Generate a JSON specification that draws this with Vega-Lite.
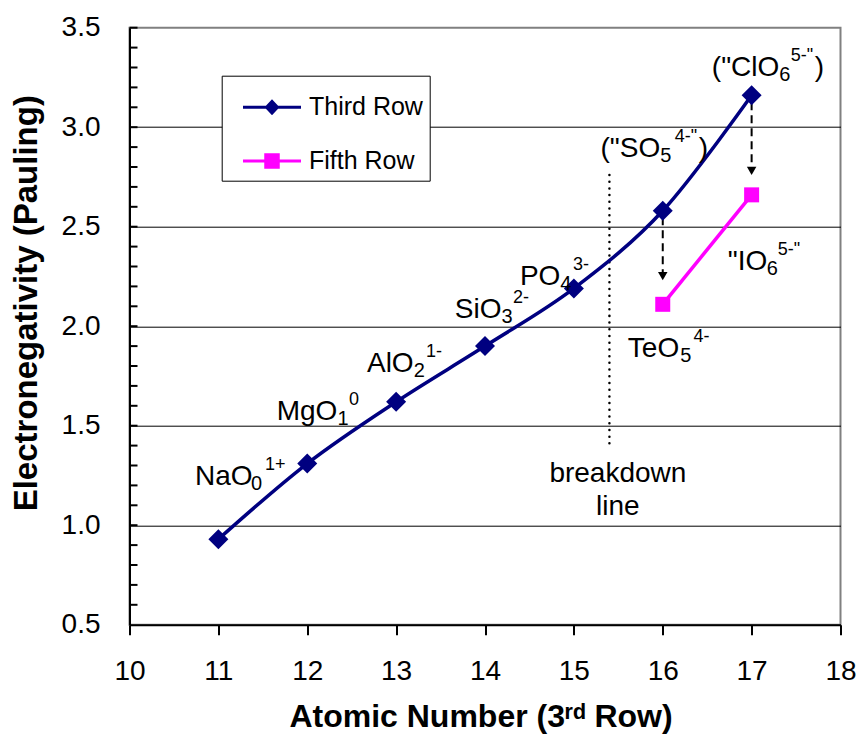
{
  "$schema": "https://vega.github.io/schema/vega-lite/v6.json",
  "autosize": {"type": "none"},
  "padding": {"left": 129.5, "top": 27.7, "right": 19.5, "bottom": 110.3},
  "width": 711,
  "height": 597,
  "background": "white",
  "config": {
    "font": "Liberation Sans",
    "view": {"stroke": "#808080", "strokeWidth": 2},
    "text": {"font": "Liberation Sans", "color": "black"}
  },
  "datasets": {
    "series": [
      {"row": "Third Row", "z": 11, "en": 0.93},
      {"row": "Third Row", "z": 12, "en": 1.31},
      {"row": "Third Row", "z": 13, "en": 1.62},
      {"row": "Third Row", "z": 14, "en": 1.90},
      {"row": "Third Row", "z": 15, "en": 2.19},
      {"row": "Third Row", "z": 16, "en": 2.58},
      {"row": "Third Row", "z": 17, "en": 3.16},
      {"row": "Fifth Row", "z": 16, "en": 2.11},
      {"row": "Fifth Row", "z": 17, "en": 2.66}
    ],
    "yticks": [
      {"v": 0.6}, {"v": 0.7}, {"v": 0.8}, {"v": 0.9}, {"v": 1.0},
      {"v": 1.1}, {"v": 1.2}, {"v": 1.3}, {"v": 1.4}, {"v": 1.5},
      {"v": 1.6}, {"v": 1.7}, {"v": 1.8}, {"v": 1.9}, {"v": 2.0},
      {"v": 2.1}, {"v": 2.2}, {"v": 2.3}, {"v": 2.4}, {"v": 2.5},
      {"v": 2.6}, {"v": 2.7}, {"v": 2.8}, {"v": 2.9}, {"v": 3.0},
      {"v": 3.1}, {"v": 3.2}, {"v": 3.3}, {"v": 3.4}, {"v": 3.5}
    ],
    "arrows": [
      {"z": 16, "top": 2.548, "bot": 2.272, "head": 2.252},
      {"z": 17, "top": 3.126, "bot": 2.80, "head": 2.780}
    ],
    "brk": [
      {"z": 15.4, "top": 2.76, "bot": 1.41, "x": 15.495, "y": 1.217, "t": "breakdown\nline"}
    ],
    "ann": [
      {"x": 10.737, "y": 1.202, "t": "NaO", "p": "main"},
      {"x": 11.367, "y": 1.202, "t": "0", "p": "sub"},
      {"x": 11.524, "y": 1.202, "t": "1+", "p": "sup"},
      {"x": 11.656, "y": 1.529, "t": "MgO", "p": "main"},
      {"x": 12.340, "y": 1.529, "t": "1", "p": "sub"},
      {"x": 12.469, "y": 1.529, "t": "0", "p": "sup"},
      {"x": 12.672, "y": 1.770, "t": "AlO", "p": "main"},
      {"x": 13.197, "y": 1.770, "t": "2", "p": "sub"},
      {"x": 13.335, "y": 1.770, "t": "1-", "p": "sup"},
      {"x": 13.661, "y": 2.041, "t": "SiO", "p": "main"},
      {"x": 14.187, "y": 2.041, "t": "3", "p": "sub"},
      {"x": 14.314, "y": 2.041, "t": "2-", "p": "sup"},
      {"x": 14.393, "y": 2.207, "t": "PO", "p": "main"},
      {"x": 14.848, "y": 2.207, "t": "4", "p": "sub"},
      {"x": 14.989, "y": 2.207, "t": "3-", "p": "sup"},
      {"x": 15.300, "y": 2.850, "t": "(\"SO", "p": "main"},
      {"x": 15.972, "y": 2.850, "t": "5", "p": "sub"},
      {"x": 16.136, "y": 2.850, "t": "4-\"", "p": "sup"},
      {"x": 16.406, "y": 2.850, "t": ")", "p": "main"},
      {"x": 16.552, "y": 3.257, "t": "(\"ClO", "p": "main"},
      {"x": 17.312, "y": 3.257, "t": "6", "p": "sub"},
      {"x": 17.440, "y": 3.257, "t": "5-\"", "p": "sup"},
      {"x": 17.711, "y": 3.257, "t": ")", "p": "main"},
      {"x": 16.732, "y": 2.282, "t": "\"IO", "p": "main"},
      {"x": 17.171, "y": 2.282, "t": "6", "p": "sub"},
      {"x": 17.295, "y": 2.282, "t": "5-\"", "p": "sup"},
      {"x": 15.607, "y": 1.845, "t": "TeO", "p": "main"},
      {"x": 16.196, "y": 1.845, "t": "5", "p": "sub"},
      {"x": 16.345, "y": 1.845, "t": "4-", "p": "sup"}
    ]
  },
  "encoding": {
    "x": {
      "type": "quantitative",
      "scale": {"domain": [10, 18], "nice": false, "zero": false},
      "axis": {
        "title": "Atomic Number (3ʳᵈ Row)",
        "values": [10, 11, 12, 13, 14, 15, 16, 17, 18],
        "format": "d",
        "grid": false,
        "tickSize": 10,
        "tickWidth": 2,
        "tickColor": "black",
        "domainColor": "black",
        "domainWidth": 2,
        "labelFontSize": 28,
        "labelColor": "black",
        "labelPadding": 23,
        "labelFlush": false,
        "labelOverlap": false,
        "titleFontSize": 32,
        "titleFontWeight": "bold",
        "titleColor": "black",
        "titleX": 351,
        "titleY": 102,
        "titleBaseline": "alphabetic"
      }
    },
    "y": {
      "type": "quantitative",
      "scale": {"domain": [0.5, 3.5], "nice": false, "zero": false},
      "axis": {
        "title": "Electronegativity (Pauling)",
        "values": [0.5, 1.0, 1.5, 2.0, 2.5, 3.0, 3.5],
        "format": ".1f",
        "grid": true,
        "gridColor": "black",
        "gridWidth": 1,
        "gridOpacity": {"condition": {"test": "datum.value > 0.6 && datum.value < 3.4", "value": 1}, "value": 0},
        "ticks": false,
        "domainColor": "black",
        "domainWidth": 2,
        "labelFontSize": 28,
        "labelColor": "black",
        "labelPadding": 29.5,
        "labelFlush": false,
        "labelOverlap": false,
        "titleFontSize": 33,
        "titleFontWeight": "bold",
        "titleColor": "black",
        "titleX": -86,
        "titleY": 275
      }
    }
  },
  "layer": [
    {
      "data": {"name": "yticks"},
      "mark": {"type": "tick", "orient": "horizontal", "size": 8, "thickness": 2, "color": "black", "xOffset": 4, "opacity": 1},
      "encoding": {
        "x": {"datum": 10, "type": "quantitative"},
        "y": {"field": "v", "type": "quantitative"}
      }
    },
    {
      "data": {"name": "brk"},
      "mark": {"type": "rule", "color": "black", "strokeWidth": 2.5, "strokeDash": [0.01, 6.7], "strokeCap": "round"},
      "encoding": {
        "x": {"field": "z", "type": "quantitative"},
        "y": {"field": "top", "type": "quantitative"},
        "y2": {"field": "bot"}
      }
    },
    {
      "data": {"name": "arrows"},
      "mark": {"type": "rule", "color": "black", "strokeWidth": 2, "strokeDash": [8, 5]},
      "encoding": {
        "x": {"field": "z", "type": "quantitative"},
        "y": {"field": "top", "type": "quantitative"},
        "y2": {"field": "bot"}
      }
    },
    {
      "data": {"name": "arrows"},
      "mark": {"type": "point", "shape": "triangle-down", "filled": true, "color": "black", "size": 90, "opacity": 1},
      "encoding": {
        "x": {"field": "z", "type": "quantitative"},
        "y": {"field": "head", "type": "quantitative"}
      }
    },
    {
      "data": {"name": "series"},
      "transform": [{"filter": "datum.row === 'Third Row'"}],
      "mark": {"type": "line", "color": "#000080", "strokeWidth": 3.5, "interpolate": "cardinal", "tension": 0},
      "encoding": {
        "x": {"field": "z", "type": "quantitative"},
        "y": {"field": "en", "type": "quantitative"}
      }
    },
    {
      "data": {"name": "series"},
      "transform": [{"filter": "datum.row === 'Fifth Row'"}],
      "mark": {"type": "line", "color": "#FF00FF", "strokeWidth": 3.5},
      "encoding": {
        "x": {"field": "z", "type": "quantitative"},
        "y": {"field": "en", "type": "quantitative"}
      }
    },
    {
      "data": {"name": "series"},
      "transform": [{"filter": "datum.row === 'Third Row'"}],
      "mark": {"type": "point", "shape": "diamond", "filled": true, "color": "#000080", "size": 400, "opacity": 1},
      "encoding": {
        "x": {"field": "z", "type": "quantitative"},
        "y": {"field": "en", "type": "quantitative"}
      }
    },
    {
      "data": {"name": "series"},
      "transform": [{"filter": "datum.row === 'Fifth Row'"}],
      "mark": {"type": "point", "shape": "square", "filled": true, "color": "#FF00FF", "size": 225, "opacity": 1},
      "encoding": {
        "x": {"field": "z", "type": "quantitative"},
        "y": {"field": "en", "type": "quantitative"}
      }
    },
    {
      "data": {"name": "series"},
      "transform": [{"filter": "false"}],
      "mark": {"type": "point", "filled": true, "size": 2500},
      "encoding": {
        "x": {"field": "z", "type": "quantitative"},
        "y": {"field": "en", "type": "quantitative"},
        "color": {
          "field": "row",
          "type": "nominal",
          "scale": {"domain": ["Third Row", "Fifth Row"], "range": ["#000080", "#FF00FF"]},
          "legend": {
            "title": null,
            "orient": "none",
            "legendX": 92.2,
            "legendY": 48,
            "direction": "vertical",
            "strokeColor": "black",
            "fillColor": "white",
            "padding": 6.6,
            "rowPadding": 15.8,
            "symbolSize": 2500,
            "symbolStrokeWidth": 0,
            "symbolOpacity": 1,
            "symbolOffset": 18.7,
            "labelOffset": 12,
            "labelFontSize": 25,
            "labelColor": "black",
            "labelFont": "Liberation Sans",
            "labelLimit": 400
          }
        },
        "shape": {
          "field": "row",
          "type": "nominal",
          "scale": {
            "domain": ["Third Row", "Fifth Row"],
            "range": [
              "M-1.16,-0.06L1.16,-0.06L1.16,0.06L-1.16,0.06Z M0,-0.32L0.3,0L0,0.32L-0.3,0Z",
              "M-1.16,-0.06L1.16,-0.06L1.16,0.06L-1.16,0.06Z M-0.31,-0.31L0.31,-0.31L0.31,0.31L-0.31,0.31Z"
            ]
          },
          "legend": {
            "title": null,
            "orient": "none",
            "legendX": 92.2,
            "legendY": 48,
            "direction": "vertical",
            "strokeColor": "black",
            "fillColor": "white",
            "padding": 6.6,
            "rowPadding": 15.8,
            "symbolSize": 2500,
            "symbolStrokeWidth": 0,
            "symbolOpacity": 1,
            "symbolOffset": 18.7,
            "labelOffset": 12,
            "labelFontSize": 25,
            "labelColor": "black",
            "labelFont": "Liberation Sans",
            "labelLimit": 400
          }
        }
      }
    },
    {
      "data": {"name": "ann"},
      "transform": [{"filter": "datum.p === 'main'"}],
      "mark": {"type": "text", "align": "left", "baseline": "alphabetic", "fontSize": 28, "color": "black"},
      "encoding": {
        "x": {"field": "x", "type": "quantitative"},
        "y": {"field": "y", "type": "quantitative"},
        "text": {"field": "t"}
      }
    },
    {
      "data": {"name": "ann"},
      "transform": [{"filter": "datum.p === 'sub'"}],
      "mark": {"type": "text", "align": "left", "baseline": "alphabetic", "fontSize": 20, "dy": 5, "color": "black"},
      "encoding": {
        "x": {"field": "x", "type": "quantitative"},
        "y": {"field": "y", "type": "quantitative"},
        "text": {"field": "t"}
      }
    },
    {
      "data": {"name": "ann"},
      "transform": [{"filter": "datum.p === 'sup'"}],
      "mark": {"type": "text", "align": "left", "baseline": "alphabetic", "fontSize": 18, "dy": -15, "color": "black"},
      "encoding": {
        "x": {"field": "x", "type": "quantitative"},
        "y": {"field": "y", "type": "quantitative"},
        "text": {"field": "t"}
      }
    },
    {
      "data": {"name": "brk"},
      "mark": {"type": "text", "align": "center", "baseline": "alphabetic", "fontSize": 28, "lineBreak": "\n", "lineHeight": 33, "color": "black"},
      "encoding": {
        "x": {"field": "x", "type": "quantitative"},
        "y": {"field": "y", "type": "quantitative"},
        "text": {"field": "t"}
      }
    }
  ]
}
